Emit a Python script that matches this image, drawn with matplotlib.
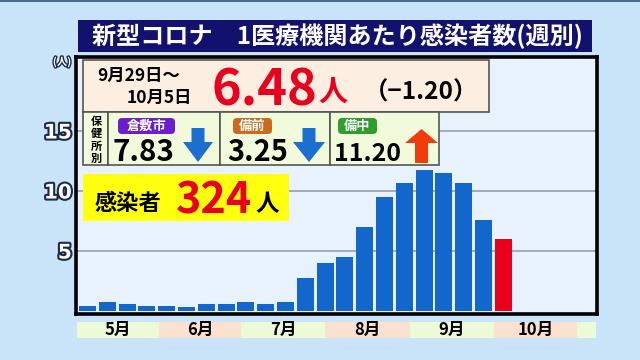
import matplotlib
matplotlib.use('Agg')
import matplotlib.pyplot as plt
from matplotlib.patches import Rectangle, FancyBboxPatch, Polygon
import matplotlib.patheffects as pe

plt.rcParams['font.family'] = ['Noto Sans CJK JP', 'DejaVu Sans']
plt.rcParams['font.weight'] = 'bold'

# ---------------- data ----------------
weekly_values = [0.44, 0.78, 0.56, 0.42, 0.44, 0.36, 0.56, 0.56, 0.72, 0.61, 0.78,
                 2.78, 4.0, 4.47, 6.97, 9.53, 10.67, 11.78, 11.5, 10.67, 7.58, 6.0]
highlight_index = 21
months = ['5月', '6月', '7月', '8月', '9月', '10月']
y_ticks = [5, 10, 15]
y_tick_labels = ['5', '10', '15']
title = '新型コロナ　1医療機関あたり感染者数(週別)'
period_lines = ['9月29日〜', '10月5日']
latest_value = '6.48'
latest_change = '（−1.20）'
unit = '人'
regions = ['倉敷市', '備前', '備中']
region_values = ['7.83', '3.25', '11.20']
region_trend = ['down', 'down', 'up']
region_group_label = '保健所別'
total_label = '感染者'
total_count = '324'

# ---------------- colors ----------------
BG = '#c9e3f8'
PLOT_BG = '#e7f2fd'
BLUE = '#1366cc'
RED = '#e8001c'
NAVY = '#12126e'

W, H = 640, 360
fig = plt.figure(figsize=(6.4, 3.6), dpi=100)
fig.patch.set_facecolor(BG)
renderer = fig.canvas.get_renderer()

# main axes (pixel frame: x 76..596.5, y 57..314)
ax = fig.add_axes([76 / W, 1 - 314 / H, (596.5 - 76) / W, (314 - 57) / H])
ax.set_facecolor(PLOT_BG)
x = list(range(len(weekly_values)))
colors = [RED if i == highlight_index else BLUE for i in x]
ax.bar(x, weekly_values, width=0.86, color=colors, zorder=2)
ax.set_xlim(-0.58, -0.58 + 520.5 / 19.8)
ax.set_ylim(-0.25, 21.17)
ax.set_yticks(y_ticks)
ax.set_yticklabels(y_tick_labels, family='DejaVu Sans', fontsize=14.5, fontweight='bold',
                   color='white',
                   path_effects=[pe.withStroke(linewidth=3, foreground='#1d2a48')])
ax.tick_params(axis='y', length=0, pad=3)
ax.set_xticks([])
ax.grid(axis='y', color='#9a9ca6', linewidth=1.2, zorder=1)
ax.set_axisbelow(True)
for s in ax.spines.values():
    s.set_linewidth(2.6)
    s.set_color('black')

# overlay axes in pixel coords
ov = fig.add_axes([0, 0, 1, 1], zorder=5)
ov.set_xlim(0, W)
ov.set_ylim(H, 0)
ov.axis('off')
ov.patch.set_alpha(0)

def rect(x0, y0, x1, y1, fc, ec='none', lw=0, z=1):
    ov.add_patch(Rectangle((x0, y0), x1 - x0, y1 - y0, facecolor=fc, edgecolor=ec,
                           linewidth=lw, zorder=z))

def pill(x0, y0, x1, y1, fc):
    ov.add_patch(FancyBboxPatch((x0 + 3, y0), x1 - x0 - 6, y1 - y0,
                                boxstyle='round,pad=0,rounding_size=4',
                                facecolor=fc, edgecolor='none', zorder=3))

def arrow(x0, x1, ytip, yend, yhead, color):
    cx = (x0 + x1) / 2
    sw = 6.5
    pts = [(x0, yhead), (cx, ytip), (x1, yhead), (cx + sw, yhead), (cx + sw, yend),
           (cx - sw, yend), (cx - sw, yhead)]
    ov.add_patch(Polygon(pts, closed=True, facecolor=color, edgecolor='none', zorder=3))

def fit_text(xpos, ypos, s, width, size, **kw):
    t = ov.text(xpos, ypos, s, fontsize=size, zorder=4, **kw)
    w = t.get_window_extent(renderer=renderer).width
    if w > 0:
        t.set_fontsize(size * width / w)
    return t

# thin dark strip at top
rect(0, 0, W, 2, '#4a6a90')

# title
rect(78, 20, 592, 52, NAVY, z=2)
fit_text(337, 36.5, title, 490, 16.5, color='white', ha='center', va='center')
ov.text(62, 62, '(人)', color='white', fontsize=7.5, ha='center', va='center',
        path_effects=[pe.withStroke(linewidth=2, foreground='#1d2a48')])

# month bands
bounds = [77, 159, 241, 325, 410, 494, 577, 596]
band_colors = ['#edfad8', '#fbe1cf']
for i in range(len(bounds) - 1):
    rect(bounds[i], 322, bounds[i + 1], 338, band_colors[i % 2])
for i, m in enumerate(months):
    ov.text((bounds[i] + bounds[i + 1]) / 2, 330, m, fontsize=12, ha='center',
            va='center', color='black', zorder=4)

# top info box
rect(83, 60, 489, 112, '#fcefe2', ec='#555555', lw=1.2, z=2)
ov.text(97, 76, period_lines[0], fontsize=12.5, ha='left', va='center', zorder=4)
ov.text(192, 98, period_lines[1], fontsize=12.5, ha='right', va='center', zorder=4)
fit_text(212, 105, latest_value, 106, 37, color=RED, ha='left', va='baseline')
ov.text(318, 92, unit, fontsize=21, color=RED, ha='left', va='center', zorder=4)
fit_text(364, 93, latest_change, 114, 18, color='black', ha='left', va='center')

# region boxes
rect(83, 112, 108, 165, '#f1fadb', ec='#555555', lw=1.2, z=2)
for k, ch in enumerate(region_group_label):
    ov.text(96, 122 + k * 12, ch, fontsize=8, ha='center', va='center', zorder=4)
box_x = [(108, 220), (220, 330), (330, 439)]
pill_x = [(115, 178), (230, 275), (335, 380)]
pill_colors = ['#6a1ed0', '#cc6a1e', '#2f9e2f']
value_x = [(113, 173), (228, 287), (335, 400)]
arrow_x = [(183, 213), (293, 325), (405, 438)]
for i, name in enumerate(regions):
    bx0, bx1 = box_x[i]
    rect(bx0, 112, bx1, 165, '#f1fadb', ec='#555555', lw=1.2, z=2)
    px0, px1 = pill_x[i]
    pill(px0, 118, px1, 134, pill_colors[i])
    ov.text((px0 + px1) / 2, 126, name, fontsize=9.5, color='white', ha='center',
            va='center', zorder=4)
    vx0, vx1 = value_x[i]
    fit_text(vx0 - 1, 161, region_values[i], vx1 - vx0 + 2, 22.5, ha='left', va='baseline')
    ax0, ax1 = arrow_x[i]
    if region_trend[i] == 'up':
        arrow(ax0, ax1, 129, 163, 143, '#f03c0a')
    else:
        arrow(ax0, ax1, 162, 128, 142, '#1a6fd0')

# yellow total box
rect(83, 174, 289, 221, '#ffff10', z=2)
ov.text(95, 204, total_label, fontsize=16, ha='left', va='center', zorder=4)
fit_text(176, 214, total_count, 76, 30, color=RED, ha='left', va='baseline')
ov.text(255, 204, unit, fontsize=17, ha='left', va='center', zorder=4)

fig.savefig('out.png', dpi=100, facecolor=fig.get_facecolor())
